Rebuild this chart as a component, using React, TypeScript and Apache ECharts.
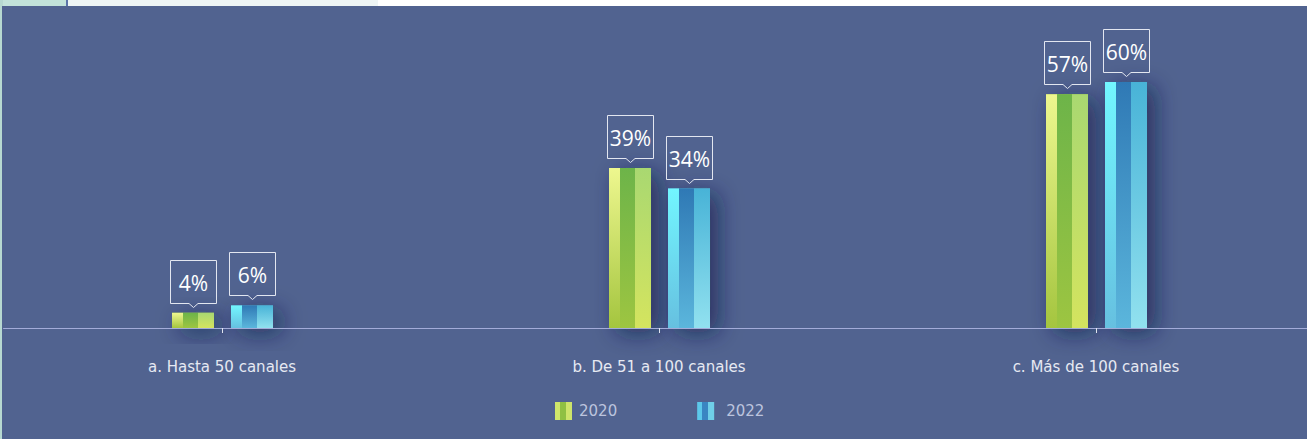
import React, { useEffect, useRef } from "react";
import * as echarts from "echarts";

const categories = ["a. Hasta 50 canales", "b. De 51 a 100 canales", "c. Más de 100 canales"];
const seriesNames = ["2020", "2022"];
const values2020 = [3.7, 39, 57];
const values2022 = [5.5, 34, 60];

const PANEL = "#516390";
const FONT = "'Open Sans', 'Noto Sans', sans-serif";
const AXFONT = "'DejaVu Sans', sans-serif";

const stripes2020 = [
  ["#eef78f", "#a4c53f"],
  ["#6db449", "#9dc541"],
  ["#a9d871", "#d4e45f"],
];
const stripes2022 = [
  ["#72f6ff", "#66c0e0"],
  ["#2f79b5", "#5bb6dc"],
  ["#48b3d7", "#91e1ef"],
];

const BAR_W = 42;
const STRIPE_W = [11, 15, 16];
const OFFSETS = [-29.5, 29.5];

function makeRender(stripes: string[][], offset: number) {
  return (params: any, api: any) => {
    const ci = api.value(0);
    const v = api.value(1);
    const top = api.coord([ci, v]);
    const base = api.coord([ci, 0]);
    const cx = top[0] + offset;
    const x0 = Math.round(cx - BAR_W / 2);
    const yTop = top[1];
    const h = base[1] - yTop;
    const children: any[] = [];
    children.push({
      type: "rect",
      shape: { x: x0, y: yTop, width: BAR_W, height: h },
      style: {
        fill: stripes[1][1],
        shadowBlur: 22,
        shadowColor: "rgba(22,30,72,0.65)",
        shadowOffsetX: 8,
        shadowOffsetY: 5,
      },
    });
    let sx = x0;
    STRIPE_W.forEach((w, i) => {
      children.push({
        type: "rect",
        shape: { x: sx, y: yTop, width: w, height: h },
        style: {
          fill: new echarts.graphic.LinearGradient(0, 0, 0, 1, [
            { offset: 0, color: stripes[i][0] },
            { offset: 1, color: stripes[i][1] },
          ]),
        },
      });
      sx += w;
    });
    const bcx = Math.round(x0 + BAR_W / 2);
    const B = Math.round(yTop - 10) + 0.5;
    const T = B - 43;
    const L = bcx - 23 + 0.5;
    const R = bcx + 23 + 0.5;
    children.push({
      type: "polygon",
      shape: {
        points: [
          [bcx - 4, B],
          [L, B],
          [L, T],
          [R, T],
          [R, B],
          [bcx + 5, B],
          [bcx + 0.5, B + 4],
        ],
      },
      style: { fill: "rgba(0,0,0,0)", stroke: "#e2e6f0", lineWidth: 1 },
    });
    children.push({
      type: "text",
      x: bcx + 0.5,
      y: (T + B) / 2 + 1,
      style: {
        text: Math.round(v) + "%",
        fill: "#ffffff",
        fontSize: 21,
        fontFamily: FONT,
        align: "center",
        verticalAlign: "middle",
      },
    });
    return { type: "group", children };
  };
}

function stripeGradient(cols: string[]) {
  return new echarts.graphic.LinearGradient(0, 0, 1, 0, [
    { offset: 0, color: cols[0] },
    { offset: 0.3, color: cols[0] },
    { offset: 0.3, color: cols[1] },
    { offset: 0.62, color: cols[1] },
    { offset: 0.62, color: cols[2] },
    { offset: 1, color: cols[2] },
  ]);
}

export default function App() {
  const ref = useRef<HTMLDivElement>(null);
  useEffect(() => {
    document.body.style.margin = "0";
    if (!ref.current) return;
    const chart = echarts.init(ref.current, undefined, { renderer: "svg" });
    const option: any = {
      animation: false,
      backgroundColor: "#ffffff",
      graphic: [
        { type: "rect", z: -10, shape: { x: 0, y: 0, width: 3, height: 439 }, style: { fill: "#b7d9d1" } },
        { type: "rect", z: -10, shape: { x: 3, y: 0, width: 63, height: 6 }, style: { fill: "#c3e3da" } },
        { type: "rect", z: -10, shape: { x: 66, y: 0, width: 2, height: 6 }, style: { fill: "#5c74a8" } },
        { type: "rect", z: -10, shape: { x: 68, y: 0, width: 310, height: 6 }, style: { fill: "#eef5f5" } },
        { type: "rect", z: -10, shape: { x: 2, y: 6, width: 1320, height: 433 }, style: { fill: PANEL } },
      ],
      grid: { left: 3.5, right: 5.5, top: 41, bottom: 111, containLabel: false },
      xAxis: {
        type: "category",
        data: categories,
        z: 5,
        axisLine: { show: true, lineStyle: { color: "#a3acd9", width: 1 } },
        axisTick: { show: true, alignWithLabel: true, length: 5, lineStyle: { color: "#e0e4f0" } },
        axisLabel: { color: "#e6e9f2", fontSize: 15, fontFamily: AXFONT, margin: 31 },
      },
      yAxis: { type: "value", min: 0, max: 70, show: false, splitLine: { show: false } },
      legend: {
        left: 555,
        top: 402,
        padding: 0,
        itemWidth: 17,
        itemHeight: 18,
        itemGap: 80,
        textStyle: { color: "#bcc4de", fontSize: 15, fontFamily: AXFONT },
        data: [
          { name: seriesNames[0], icon: "rect", itemStyle: { color: stripeGradient(["#cfe66a", "#8fc043", "#cde46a"]) }, textStyle: { padding: [0, 0, 0, 2] } },
          { name: seriesNames[1], icon: "rect", itemStyle: { color: stripeGradient(["#5cc8ea", "#3a86c2", "#6fcfe8"]) }, textStyle: { padding: [0, 0, 0, 7] } },
        ],
      },
      series: [
        {
          type: "custom",
          name: seriesNames[0],
          data: values2020.map((v, i) => [i, v]),
          encode: { x: 0, y: 1 },
          itemStyle: { color: "#8fc043" },
          renderItem: makeRender(stripes2020, OFFSETS[0]),
        },
        {
          type: "custom",
          name: seriesNames[1],
          data: values2022.map((v, i) => [i, v]),
          encode: { x: 0, y: 1 },
          itemStyle: { color: "#3a86c2" },
          renderItem: makeRender(stripes2022, OFFSETS[1]),
        },
      ],
    };
    chart.setOption(option);
    return () => chart.dispose();
  }, []);
  return (
    <div style={{ position: "fixed", left: 0, top: 0, width: 1307, height: 439, overflow: "hidden" }}>
      <div ref={ref} style={{ width: 1320, height: 439 }} />
    </div>
  );
}
